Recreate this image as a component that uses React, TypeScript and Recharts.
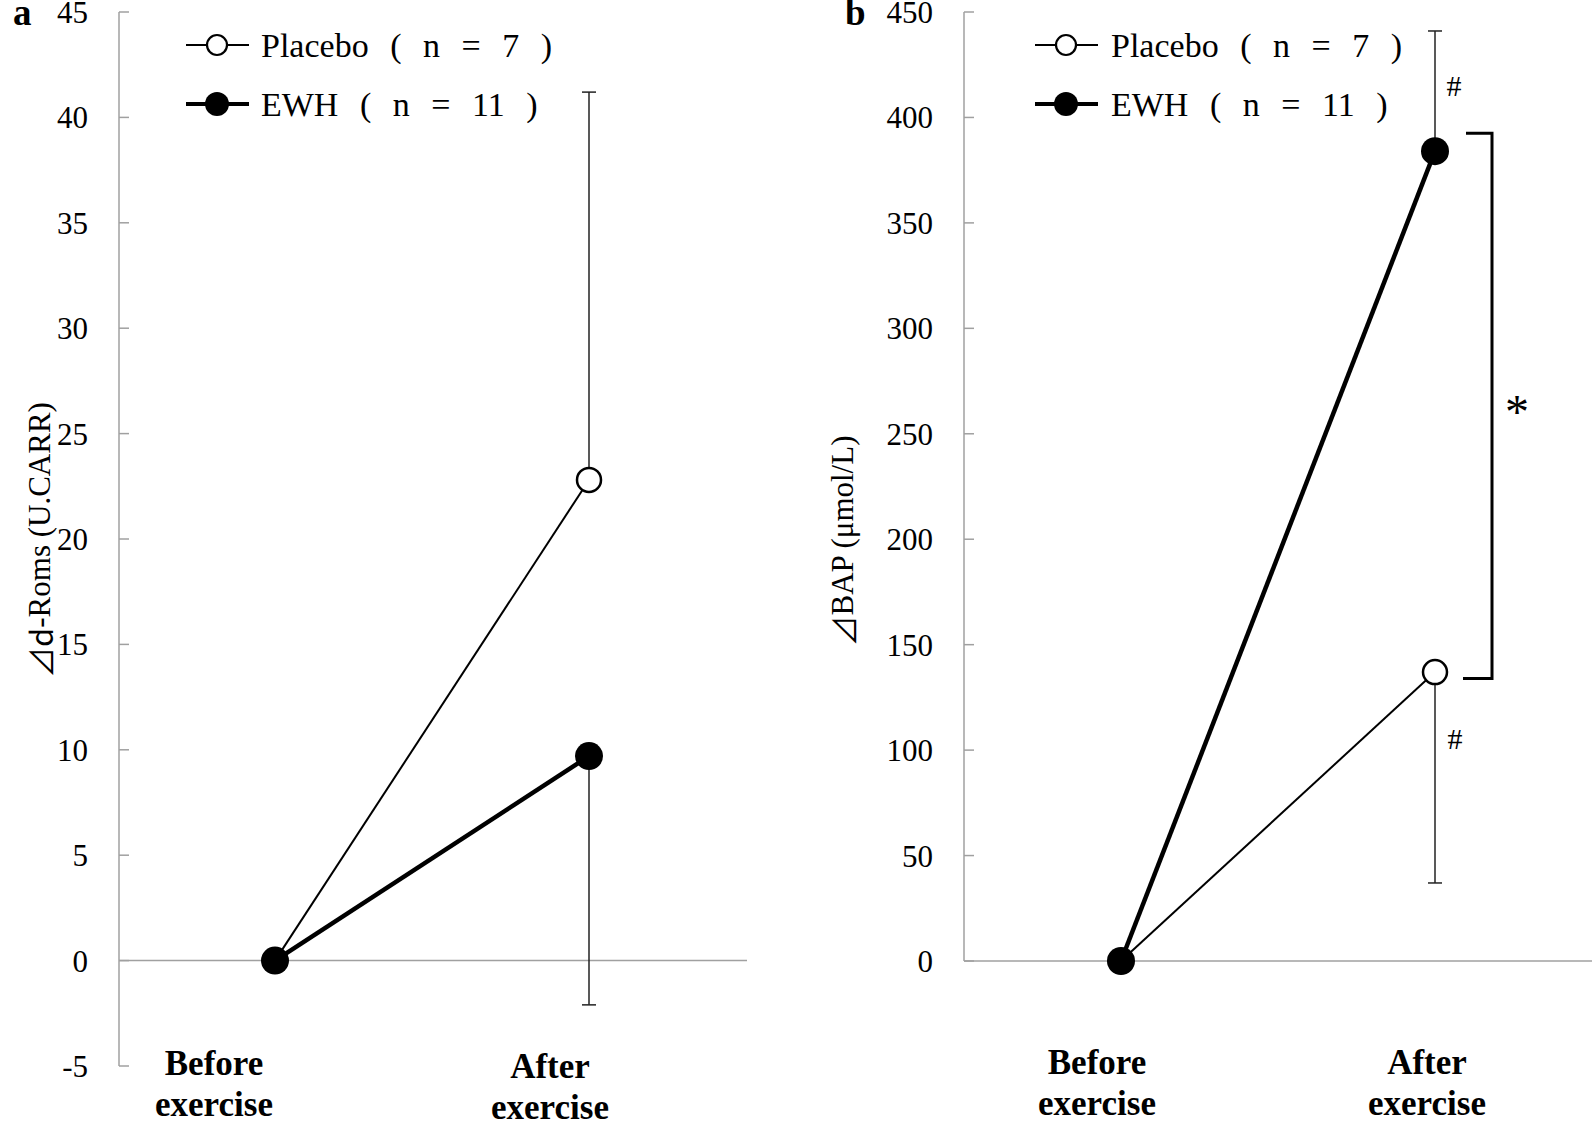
import React from 'react';
import { LineChart, Line, XAxis, YAxis, ErrorBar, ReferenceLine, Customized } from 'recharts';

const categories = ['Before exercise', 'After exercise'];

// a: d-ROMs change
const romsPlacebo = [0, 22.8];
const romsEwh = [0, 9.7];
const romsPlaceboErr = [null, [0, 18.4]];
const romsEwhErr = [null, [11.8, 0]];
const romsTicks = [-5, 0, 5, 10, 15, 20, 25, 30, 35, 40, 45];

// b: BAP change
const bapPlacebo = [0, 137];
const bapEwh = [0, 384];
const bapPlaceboErr = [null, [100, 0]];
const bapEwhErr = [null, [0, 57]];
const bapTicks = [0, 50, 100, 150, 200, 250, 300, 350, 400, 450];
const bapBracket = [392.5, 134];

const romsData = categories.map((cat, i) => ({
  cat, placebo: romsPlacebo[i], ewh: romsEwh[i], placeboErr: romsPlaceboErr[i], ewhErr: romsEwhErr[i],
}));
const bapData = categories.map((cat, i) => ({
  cat, placebo: bapPlacebo[i], ewh: bapEwh[i], placeboErr: bapPlaceboErr[i], ewhErr: bapEwhErr[i],
}));

const SERIF = '"Liberation Serif", "Times New Roman", serif';
const GRAY = '#a0a0a0';

// category labels sit a bit left of the points in the original figure
const XTick = (props: any) => {
  const { x, y, payload, index, first, shift, drop } = props;
  const [l1, l2] = String(payload.value).split(' ');
  const cx = x + (shift[index] ?? 0);
  return (
    <text x={cx} y={y} textAnchor="middle" fontFamily={SERIF} fontSize={35} fontWeight="bold" fill="#000">
      <tspan x={cx} dy={first + (drop[index] ?? 0)}>{l1}</tspan>
      <tspan x={cx} dy={41}>{l2}</tspan>
    </text>
  );
};

const Legend = ({ lx, tx }: { lx: number; tx: number }) => (
  <g fontFamily={SERIF} fontSize={34} fill="#000">
    <line x1={lx} x2={lx + 63} y1={45} y2={45} stroke="#000" strokeWidth={2} />
    <circle cx={lx + 31} cy={45} r={10} fill="#fff" stroke="#000" strokeWidth={2.2} />
    <text x={tx} y={45} dominantBaseline="central" style={{ wordSpacing: 13 }}>Placebo ( n = 7 )</text>
    <line x1={lx} x2={lx + 63} y1={104} y2={104} stroke="#000" strokeWidth={4} />
    <circle cx={lx + 31} cy={104} r={12} fill="#000" />
    <text x={tx} y={104} dominantBaseline="central" style={{ wordSpacing: 13 }}>EWH ( n = 11 )</text>
  </g>
);

const hashLabel = (dx: number, dy: number) => (p: any) => {
  const idx = p.index ?? (p.value ? 1 : 0);
  if (idx !== 1) return null;
  return (
    <text x={p.x + dx} y={p.y + dy} textAnchor="middle" fontFamily={SERIF} fontSize={30} fill="#000">#</text>
  );
};

const Bracket = (p: any) => {
  const { x1, y1, y2 } = p;
  const top = Math.min(y1, y2);
  const bot = Math.max(y1, y2);
  return (
    <g>
      <path d={`M${x1 + 31},${top} H${x1 + 57} V${bot} H${x1 + 28}`} fill="none" stroke="#000" strokeWidth={3} />
      <text x={x1 + 82} y={(top + bot) / 2 + 22} textAnchor="middle" fontFamily={SERIF} fontSize={48} fill="#000">*</text>
    </g>
  );
};

const tickStyle = { fill: '#000', fontSize: 31, fontFamily: SERIF };

export default function App() {
  return (
    <div style={{ position: 'absolute', left: 0, top: 0, width: 1594, height: 1124, display: 'flex', background: '#fff' }}>
      <LineChart width={800} height={1124} data={romsData} margin={{ top: 12, right: 53, left: 0, bottom: 0 }}>
        <XAxis dataKey="cat" height={58} interval={0} padding={{ left: 156, right: 158 }}
          axisLine={false} tickLine={false} tickSize={0} tickMargin={0}
          tick={(p: any) => <XTick {...p} first={9} shift={[-61, -39]} drop={[0, 3]} />} />
        <YAxis width={119} domain={[-5, 45]} ticks={romsTicks} interval={0} tickSize={-10} tickMargin={41}
          axisLine={{ stroke: GRAY, strokeWidth: 1.5 }} tickLine={{ stroke: GRAY, strokeWidth: 1.5 }}
          tick={tickStyle} />
        <ReferenceLine y={0} stroke={GRAY} strokeWidth={1.5} />
        <Line dataKey="placebo" stroke="#000" strokeWidth={2} isAnimationActive={false} activeDot={false}
          dot={{ r: 12, fill: '#fff', stroke: '#000', strokeWidth: 2.5 }}>
          <ErrorBar dataKey="placeboErr" width={7} stroke="#222" strokeWidth={1.5} direction="y" />
        </Line>
        <Line dataKey="ewh" stroke="#000" strokeWidth={4.5} isAnimationActive={false} activeDot={false}
          dot={{ r: 14, fill: '#000', stroke: '#000', strokeWidth: 0 }}>
          <ErrorBar dataKey="ewhErr" width={7} stroke="#222" strokeWidth={1.5} direction="y" />
        </Line>
        <Customized component={() => (
          <g>
            <text x={13} y={25} fontFamily={SERIF} fontSize={37} fontWeight="bold" fill="#000">a</text>
            <text transform="translate(39,540) rotate(-90)" textAnchor="middle" dominantBaseline="central"
              fontFamily={SERIF} fontSize={31} fill="#000">
              <tspan fontFamily='"Noto Sans CJK JP", sans-serif'>⊿d</tspan>-Roms (U.CARR)
            </text>
            <Legend lx={186} tx={261} />
          </g>
        )} />
      </LineChart>

      <LineChart width={794} height={1124} data={bapData} margin={{ top: 12, right: 2, left: 0, bottom: 0 }}>
        <XAxis dataKey="cat" height={163} interval={0} padding={{ left: 157, right: 157 }}
          axisLine={{ stroke: GRAY, strokeWidth: 1.5 }} tickLine={false} tickSize={0} tickMargin={0}
          tick={(p: any) => <XTick {...p} first={113} shift={[-24, -8]} drop={[0, 0]} />} />
        <YAxis width={164} domain={[0, 450]} ticks={bapTicks} interval={0} tickSize={-10} tickMargin={41}
          axisLine={{ stroke: GRAY, strokeWidth: 1.5 }} tickLine={{ stroke: GRAY, strokeWidth: 1.5 }}
          tick={tickStyle} />
        <ReferenceLine segment={[{ x: categories[1], y: bapBracket[0] }, { x: categories[1], y: bapBracket[1] }]}
          shape={Bracket} />
        <Line dataKey="placebo" stroke="#000" strokeWidth={2} isAnimationActive={false} activeDot={false}
          dot={{ r: 12, fill: '#fff', stroke: '#000', strokeWidth: 2.5 }} label={hashLabel(20, 77)}>
          <ErrorBar dataKey="placeboErr" width={7} stroke="#222" strokeWidth={1.5} direction="y" />
        </Line>
        <Line dataKey="ewh" stroke="#000" strokeWidth={4.5} isAnimationActive={false} activeDot={false}
          dot={{ r: 14, fill: '#000', stroke: '#000', strokeWidth: 0 }} label={hashLabel(19, -55)}>
          <ErrorBar dataKey="ewhErr" width={7} stroke="#222" strokeWidth={1.5} direction="y" />
        </Line>
        <Customized component={() => (
          <g>
            <text x={45} y={25} fontFamily={SERIF} fontSize={37} fontWeight="bold" fill="#000">b</text>
            <text transform="translate(42,541) rotate(-90)" textAnchor="middle" dominantBaseline="central"
              fontFamily={SERIF} fontSize={31} fill="#000">
              <tspan fontFamily='"Noto Sans CJK JP", sans-serif'>⊿</tspan>BAP (μmol/L)
            </text>
            <Legend lx={235} tx={311} />
          </g>
        )} />
      </LineChart>
    </div>
  );
}
